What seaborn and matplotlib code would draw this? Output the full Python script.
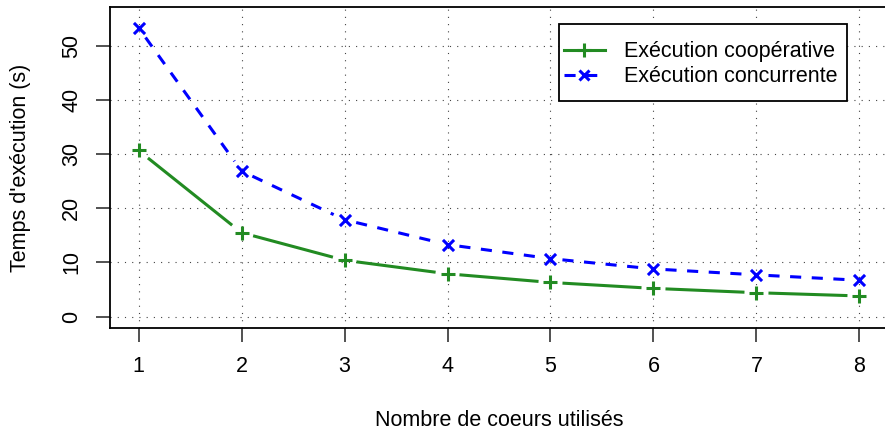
import numpy as np
import pandas as pd
import matplotlib
matplotlib.use("Agg")
import matplotlib.pyplot as plt
from matplotlib.lines import Line2D
from matplotlib.patches import Rectangle
import seaborn as sns

# Execution times (seconds) versus number of cores
cores = [1, 2, 3, 4, 5, 6, 7, 8]
temps_cooperative = [30.7, 15.5, 10.4, 7.9, 6.3, 5.2, 4.4, 3.8]
temps_concurrente = [53.4, 26.9, 17.9, 13.3, 10.7, 8.8, 7.7, 6.7]
label_cooperative = "Exécution coopérative"
label_concurrente = "Exécution concurrente"
x_ticks = [1, 2, 3, 4, 5, 6, 7, 8]
y_ticks = [0, 10, 20, 30, 40, 50]

plt.rcParams["font.family"] = ["Liberation Sans", "DejaVu Sans"]
plt.rcParams["lines.scale_dashes"] = False

W, H, DPI = 885, 430, 100
fig = plt.figure(figsize=(W / DPI, H / DPI), dpi=DPI)

# axes box in pixel coordinates (the right border runs just past the canvas)
left_px, right_px, top_px, bottom_px = 109.7, 888.3, 7.2, 328.4
ax = fig.add_axes([left_px / W, 1 - bottom_px / H,
                   (right_px - left_px) / W, (bottom_px - top_px) / H])
ax.set_xlim(0.72, 8.28)
ax.set_ylim(-2.2, 57.2)

GREEN = "#228B22"
BLUE = "#0000FF"
LW = 2.2
FS = 15.5
DASH = (8.0, 7.6)

# dotted grid
for xv in x_ticks:
    ax.axvline(xv, color="#444444", lw=0.8, dashes=(0.8, 4.4), zorder=1)
for yv in y_ticks:
    ax.axhline(yv, color="#444444", lw=0.8, dashes=(0.8, 4.4), zorder=1)


def gapped_segments(xs, ys, gap_px=12.0):
    """Line segments between consecutive points, leaving a gap around each point."""
    pts = ax.transData.transform(np.column_stack([xs, ys]))
    inv = ax.transData.inverted()
    segs = []
    for p0, p1 in zip(pts[:-1], pts[1:]):
        d = p1 - p0
        u = d / np.hypot(*d)
        segs.append(inv.transform(np.vstack([p0 + u * gap_px, p1 - u * gap_px])))
    return segs


df = pd.DataFrame({"cores": cores,
                   "coop": temps_cooperative,
                   "conc": temps_concurrente})

for seg in gapped_segments(cores, temps_cooperative):
    ax.plot(seg[:, 0], seg[:, 1], color=GREEN, lw=LW, solid_capstyle="butt", zorder=3)
for seg in gapped_segments(cores, temps_concurrente):
    ax.plot(seg[:, 0], seg[:, 1], color=BLUE, lw=LW, dashes=DASH,
            dash_capstyle="butt", zorder=3)

sns.scatterplot(data=df, x="cores", y="coop", ax=ax, color=GREEN,
                marker="+", s=100, linewidth=LW, zorder=4, legend=False)
sns.scatterplot(data=df, x="cores", y="conc", ax=ax, color=BLUE,
                marker="x", s=64, linewidth=LW, zorder=4, legend=False)

ax.set_xticks(x_ticks)
ax.set_yticks(y_ticks)
ax.set_xticklabels([str(v) for v in x_ticks], fontsize=FS)
ax.set_yticklabels([str(v) for v in y_ticks], fontsize=FS, rotation=90, va="center")
ax.tick_params(direction="out", length=9.8, width=1.1, color="#222222")
ax.tick_params(axis="x", pad=10)
ax.tick_params(axis="y", pad=10)

for side in ["left", "bottom", "top", "right"]:
    ax.spines[side].set_linewidth(1.3)
    ax.spines[side].set_color("black")

ax.set_xlabel("Nombre de coeurs utilisés", fontsize=FS)
ax.set_ylabel("Temps d'exécution (s)", fontsize=FS)
ax.xaxis.set_label_coords(499 / W, 1 - 420 / H, transform=fig.transFigure)
ax.yaxis.set_label_coords(21 / W, 1 - 168 / H, transform=fig.transFigure)
ax.xaxis.label.set_va("center")
ax.yaxis.label.set_va("center")

# legend
handles = [
    Line2D([], [], color=GREEN, lw=LW, marker="+", markersize=10, markeredgewidth=LW),
    Line2D([], [], color=BLUE, lw=LW, dashes=DASH, dash_capstyle="butt", marker="x",
           markersize=7.5, markeredgewidth=LW),
]
leg = fig.legend(handles, [label_cooperative, label_concurrente],
                 loc="upper left", bbox_to_anchor=(563.5 / W, 1 - 41.5 / H),
                 frameon=False, fontsize=FS, borderpad=0, borderaxespad=0,
                 handlelength=1.95, handletextpad=0.85, labelspacing=0.17)
fig.patches.append(Rectangle((559 / W, 1 - 101 / H), (847 - 559) / W, (101 - 24) / H,
                             transform=fig.transFigure, fill=True, facecolor="white",
                             edgecolor="black", lw=1.3, zorder=5))
leg.set_zorder(6)

fig.savefig("out.png", dpi=DPI)
